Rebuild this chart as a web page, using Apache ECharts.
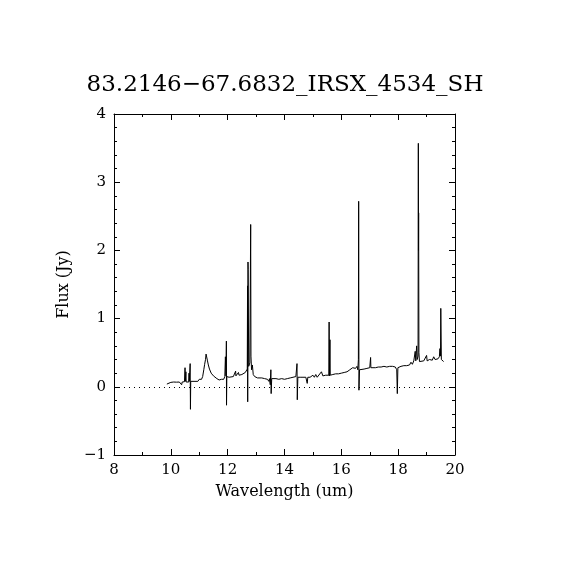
<!DOCTYPE html>
<html lang="en">
<head>
<meta charset="UTF-8">
<title>83.2146-67.6832_IRSX_4534_SH</title>
<style>
  * { margin: 0; padding: 0; }
  html, body { background: #fff; }
  #chart { width: 570px; height: 570px; }
</style>
<script src="https://cdn.jsdelivr.net/npm/echarts@6/dist/echarts.min.js"></script>
</head>
<body>
<div id="chart"></div>
<script>
// spectrum: wavelength (um) and flux (Jy)
var wave = [
  9.86, 9.88, 10.0, 10.1, 10.2, 10.3, 10.36, 10.38, 10.40, 10.48,
  10.50, 10.51, 10.53, 10.54, 10.60, 10.63, 10.64, 10.65, 10.68, 10.69,
  10.70, 10.75, 10.85, 10.95, 11.0, 11.05, 11.08, 11.12, 11.16, 11.19,
  11.22, 11.24, 11.27, 11.29, 11.32, 11.36, 11.42, 11.50, 11.56, 11.62,
  11.66, 11.70, 11.74, 11.78, 11.82, 11.86, 11.90, 11.92, 11.94, 11.955,
  11.96, 11.97, 12.00, 12.05, 12.10, 12.20, 12.27, 12.28, 12.29, 12.35,
  12.38, 12.40, 12.45, 12.50, 12.55, 12.62, 12.66, 12.69, 12.70, 12.705,
  12.715, 12.72, 12.74, 12.78, 12.81, 12.82, 12.84, 12.87, 12.90, 12.95,
  13.0, 13.05, 13.10, 13.2, 13.3, 13.4, 13.45, 13.47, 13.50, 13.52,
  13.53, 13.55, 13.6, 13.7, 13.8, 13.9, 14.0, 14.1, 14.2, 14.3,
  14.4, 14.44, 14.45, 14.47, 14.55, 14.65, 14.75, 14.80, 14.82, 14.9,
  14.95, 15.0, 15.05, 15.1, 15.15, 15.2, 15.3, 15.35, 15.45, 15.56,
  15.57, 15.58, 15.60, 15.61, 15.7, 15.8, 15.9, 16.0, 16.1, 16.2,
  16.3, 16.35, 16.4, 16.45, 16.5, 16.55, 16.58, 16.60, 16.61, 16.62,
  16.64, 16.7, 16.8, 16.9, 17.0, 17.02, 17.03, 17.04, 17.1, 17.2,
  17.3, 17.4, 17.5, 17.6, 17.7, 17.8, 17.9, 17.95, 17.97, 17.99,
  18.1, 18.2, 18.3, 18.4, 18.45, 18.5, 18.55, 18.58, 18.6, 18.62,
  18.65, 18.67, 18.70, 18.71, 18.715, 18.72, 18.73, 18.75, 18.8, 18.9,
  18.95, 19.0, 19.02, 19.1, 19.2, 19.25, 19.3, 19.35, 19.4, 19.45,
  19.47, 19.49, 19.50, 19.52, 19.57, 19.60
];
var flux = [
  0.04, 0.065, 0.065, 0.07, 0.068, 0.07, 0.07, 0.03, 0.07, 0.075,
  0.28, 0.08, 0.22, 0.07, 0.08, 0.07, 0.20, 0.08, 0.34, -0.33,
  0.08, 0.075, 0.08, 0.08, 0.11, 0.12, 0.11, 0.15, 0.25, 0.33,
  0.40, 0.48, 0.48, 0.38, 0.32, 0.26, 0.20, 0.16, 0.14, 0.12,
  0.13, 0.10, 0.12, 0.11, 0.13, 0.11, 0.15, 0.44, 0.16, 0.67,
  -0.27, 0.15, 0.17, 0.14, 0.15, 0.15, 0.16, 0.23, 0.16, 0.17,
  0.21, 0.17, 0.19, 0.18, 0.20, 0.21, 0.22, 0.26, 1.48, -0.22,
  1.83, 1.72, 0.30, 0.35, 2.38, 0.45, 0.25, 0.32, 0.18, 0.15,
  0.14, 0.13, 0.12, 0.13, 0.12, 0.11, 0.08, 0.12, 0.03, 0.25,
  -0.10, 0.12, 0.12, 0.12, 0.11, 0.12, 0.11, 0.12, 0.13, 0.14,
  0.15, 0.34, -0.19, 0.14, 0.14, 0.14, 0.14, 0.05, 0.14, 0.14,
  0.13, 0.17, 0.14, 0.18, 0.14, 0.16, 0.22, 0.16, 0.17, 0.17,
  0.95, 0.16, 0.69, 0.17, 0.18, 0.19, 0.19, 0.20, 0.21, 0.22,
  0.25, 0.24, 0.28, 0.26, 0.27, 0.30, 0.25, 0.40, 2.72, -0.05,
  0.25, 0.25, 0.26, 0.27, 0.28, 0.27, 0.43, 0.28, 0.28, 0.28,
  0.29, 0.29, 0.30, 0.29, 0.30, 0.30, 0.29, 0.25, -0.10, 0.28,
  0.30, 0.31, 0.31, 0.32, 0.36, 0.33, 0.38, 0.36, 0.52, 0.38,
  0.60, 0.40, 0.45, 3.57, 2.0, 2.55, 0.50, 0.37, 0.36, 0.38,
  0.37, 0.46, 0.38, 0.40, 0.39, 0.44, 0.40, 0.42, 0.41, 0.44,
  0.56, 0.45, 1.15, 0.40, 0.41, 0.37
];
var xTicks = [8, 10, 12, 14, 16, 18, 20];
var yTicks = [-1, 0, 1, 2, 3, 4];

var FONT = 'DejaVu Serif';
var pts = [];
for (var i = 0; i < wave.length; i++) pts.push([wave[i], flux[i]]);

function minusFmt(v) { return String(v).replace('-', '\u2212'); }

var chart = echarts.init(document.getElementById('chart'));

function frameX(pos, labels) {
  return {
    type: 'value', position: pos,
    min: xTicks[0], max: xTicks[xTicks.length - 1], interval: 2,
    name: labels ? 'Wavelength (um)' : '',
    nameLocation: 'middle', nameGap: 29,
    nameTextStyle: { color: '#000', fontFamily: FONT, fontSize: 16 },
    axisLine: { show: true, onZero: false, lineStyle: { color: '#000', width: 1 } },
    axisTick: { show: true, inside: true, length: 6, lineStyle: { color: '#000' } },
    minorTick: { show: true, splitNumber: 2, length: 3, lineStyle: { color: '#000' } },
    axisLabel: { show: labels, color: '#000', fontFamily: FONT, fontSize: 15, margin: 8 },
    splitLine: { show: false }
  };
}
function frameY(pos, labels) {
  return {
    type: 'value', position: pos,
    min: yTicks[0], max: yTicks[yTicks.length - 1], interval: 1,
    name: labels ? 'Flux (Jy)' : '',
    nameLocation: 'middle', nameGap: 42,
    nameTextStyle: { color: '#000', fontFamily: FONT, fontSize: 16 },
    axisLine: { show: true, onZero: false, lineStyle: { color: '#000', width: 1 } },
    axisTick: { show: true, inside: true, length: 6, lineStyle: { color: '#000' } },
    minorTick: { show: true, splitNumber: 5, length: 3, lineStyle: { color: '#000' } },
    axisLabel: { show: labels, color: '#000', fontFamily: FONT, fontSize: 15, margin: 8, formatter: minusFmt },
    splitLine: { show: false }
  };
}

var option = {
  animation: false,
  backgroundColor: '#fff',
  title: {
    text: '83.2146\u221267.6832_IRSX_4534_SH',
    left: 'center', top: 69,
    textStyle: { color: '#000', fontFamily: FONT, fontWeight: 'normal', fontSize: 23 }
  },
  grid: { left: 114, right: 115, top: 114, bottom: 115 },
  xAxis: [frameX('bottom', true), frameX('top', false)],
  yAxis: [frameY('left', true), frameY('right', false)],
  series: [{
    type: 'line',
    data: pts,
    showSymbol: false,
    lineStyle: { color: '#000', width: 1 },
    markLine: {
      silent: true, symbol: 'none', label: { show: false },
      lineStyle: { color: '#000', type: [1, 4], width: 1 },
      data: [{ yAxis: 0 }]
    }
  }]
};
chart.setOption(option);
</script>
</body>
</html>
